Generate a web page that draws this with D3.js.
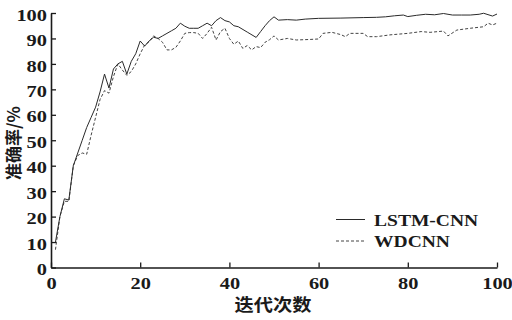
<!DOCTYPE html>
<html>
<head>
<meta charset="utf-8">
<script src="https://cdn.jsdelivr.net/npm/d3@7/dist/d3.min.js"></script>
<style>
  body { margin: 0; background: #fff; }
  svg { display: block; }
</style>
</head>
<body>
<div id="chart"></div>
<script>
// --- data ---
const lstmEpochs = [1, 2, 3, 4, 5, 7, 8, 9, 10, 11, 12, 13, 14, 15, 16, 17, 18, 19, 20, 21, 22, 23, 24, 25, 26, 27, 28, 29, 30, 31, 32, 33, 34, 35, 36, 37, 38, 39, 40, 41, 42, 44, 46, 47, 48, 49, 50, 51, 53, 55, 57, 60, 65, 70, 73, 75, 77, 79, 80, 82, 84, 86, 88, 90, 92, 94, 96, 97, 99, 100];
const lstmAcc = [10, 20, 27, 26.5, 40, 50, 55, 59, 63, 69, 76, 70.5, 78, 80, 81, 76, 81, 84, 89, 87, 89, 90.5, 90, 91, 92, 93, 94, 96, 94.8, 94, 94, 94, 95, 96, 95, 97, 98.2, 97, 96.5, 95, 94.6, 92.5, 90.4, 92.7, 95, 97, 98.5, 97.2, 97.4, 97.2, 97.6, 97.9, 98, 98.2, 98.3, 98.5, 98.9, 99.2, 98.6, 99.1, 99.5, 99.3, 99.8, 99.2, 99.2, 99.2, 99.5, 99.9, 98.8, 99.6];

const wdEpochs = [1, 2, 3, 4, 5, 6, 7, 8, 9, 10, 11, 12, 13, 14, 15, 16, 17, 18, 19, 20, 21, 22, 23, 24, 25, 26, 27, 28, 29, 30, 31, 32, 33, 34, 35, 36, 37, 38, 39, 40, 41, 42, 43, 44, 45, 46, 47, 48, 49, 50, 51, 53, 55, 58, 60, 61, 63, 65, 66, 67, 70, 71, 73, 76, 80, 83, 85, 88, 89, 91, 94, 97, 98, 99, 100];
const wdAcc = [7, 20, 26, 26, 40, 44, 45, 44.5, 52, 59, 66, 69.5, 68.5, 75, 80, 77.6, 75.5, 77, 80, 84, 87.4, 88.7, 91, 90, 88.5, 85.5, 85.5, 86.5, 89, 92, 92.3, 92.3, 92, 90, 92, 94.4, 89.4, 92.7, 94, 90, 87.7, 89, 86.1, 87.2, 85.5, 86.8, 86.4, 88.5, 89.5, 91, 89.4, 90, 89.4, 89.6, 89.8, 92, 92.4, 91.5, 90.7, 92, 92, 90.7, 90.7, 91.4, 92, 92.7, 92.4, 92.9, 91, 93.3, 94, 94.6, 96, 95.3, 96];

const xTicks = [0, 20, 40, 60, 80, 100];
const yTicks = [0, 10, 20, 30, 40, 50, 60, 70, 80, 90, 100];
const seriesNames = ["LSTM-CNN", "WDCNN"];
const xTitle = "迭代次数";
const yTitle = "准确率/%";

// --- layout ---
const width = 512, height = 320;
const margin = { left: 51, right: 15, top: 13, bottom: 52.5 };
const serif = "'Liberation Serif', 'Times New Roman', serif";
const cjk = "'Noto Sans CJK SC', sans-serif";

const svg = d3.select("#chart").append("svg")
  .attr("width", width)
  .attr("height", height);

const x = d3.scaleLinear().domain([0, 100]).range([margin.left, width - margin.right]);
const y = d3.scaleLinear().domain([0, 100]).range([height - margin.bottom, margin.top]);

// 軸 (ticks pointing inward)
const xAxis = svg.append("g")
  .attr("transform", `translate(0,${y(0)})`)
  .call(d3.axisBottom(x).tickValues(xTicks).tickSizeInner(-5).tickSizeOuter(0).tickPadding(9));

const yAxis = svg.append("g")
  .attr("transform", `translate(${x(0)},0)`)
  .call(d3.axisLeft(y).tickValues(yTicks).tickSizeInner(-5).tickSizeOuter(0).tickPadding(4));

[xAxis, yAxis].forEach(g => {
  g.select(".domain").attr("stroke", "#1a1a1a").attr("stroke-width", 1.6);
  g.selectAll(".tick line").attr("stroke", "#1a1a1a").attr("stroke-width", 1.3);
});

// 横長のフォントに見せるため、ラベルを横方向に伸ばす
function stretchLabels(g) {
  g.selectAll(".tick text").each(function() {
    const t = d3.select(this);
    const tx = +t.attr("x") || 0;
    const ty = +t.attr("y") || 0;
    t.attr("x", 0).attr("y", 0)
      .attr("transform", `translate(${tx},${ty}) scale(1.2,1)`)
      .attr("fill", "#1a1a1a")
      .style("font-family", serif)
      .style("font-size", "17px")
      .style("font-weight", "bold");
  });
}
stretchLabels(xAxis);
stretchLabels(yAxis);
yAxis.selectAll(".tick text").attr("dy", "0.42em");
xAxis.selectAll(".tick text").attr("dy", "0.71em");

// lines
const lstmData = lstmEpochs.map((e, i) => [e, lstmAcc[i]]);
const wdData = wdEpochs.map((e, i) => [e, wdAcc[i]]);
const line = d3.line().x(d => x(d[0])).y(d => y(d[1]));

svg.append("path")
  .datum(wdData)
  .attr("d", line)
  .attr("fill", "none")
  .attr("stroke", "#444")
  .attr("stroke-width", 1)
  .attr("stroke-dasharray", "3,2");

svg.append("path")
  .datum(lstmData)
  .attr("d", line)
  .attr("fill", "none")
  .attr("stroke", "#2a2a2a")
  .attr("stroke-width", 1);

// legend
const legend = svg.append("g").attr("transform", "translate(336,219.5)");
seriesNames.forEach((name, i) => {
  const row = legend.append("g").attr("transform", `translate(0,${i * 21.5})`);
  row.append("line")
    .attr("x1", 0).attr("x2", 29)
    .attr("stroke", i === 0 ? "#2a2a2a" : "#444")
    .attr("stroke-width", 1)
    .attr("stroke-dasharray", i === 0 ? null : "3,2");
  row.append("text")
    .attr("transform", "translate(38,0) scale(1.15,1)")
    .attr("dy", "0.36em")
    .attr("fill", "#1a1a1a")
    .style("font-family", serif)
    .style("font-size", "17px")
    .style("font-weight", "bold")
    .text(name);
});

// axis titles
svg.append("text")
  .attr("transform", `translate(273,305) scale(1.1,1)`)
  .attr("text-anchor", "middle")
  .attr("dy", "0.36em")
  .attr("fill", "#1a1a1a")
  .style("font-family", cjk)
  .style("font-size", "17.5px")
  .style("font-weight", "bold")
  .text(xTitle);

svg.append("text")
  .attr("transform", `translate(14,143) rotate(-90)`)
  .attr("text-anchor", "middle")
  .attr("dy", "0.36em")
  .attr("fill", "#1a1a1a")
  .style("font-family", cjk)
  .style("font-size", "17px")
  .style("font-weight", "bold")
  .text(yTitle);
</script>
</body>
</html>
